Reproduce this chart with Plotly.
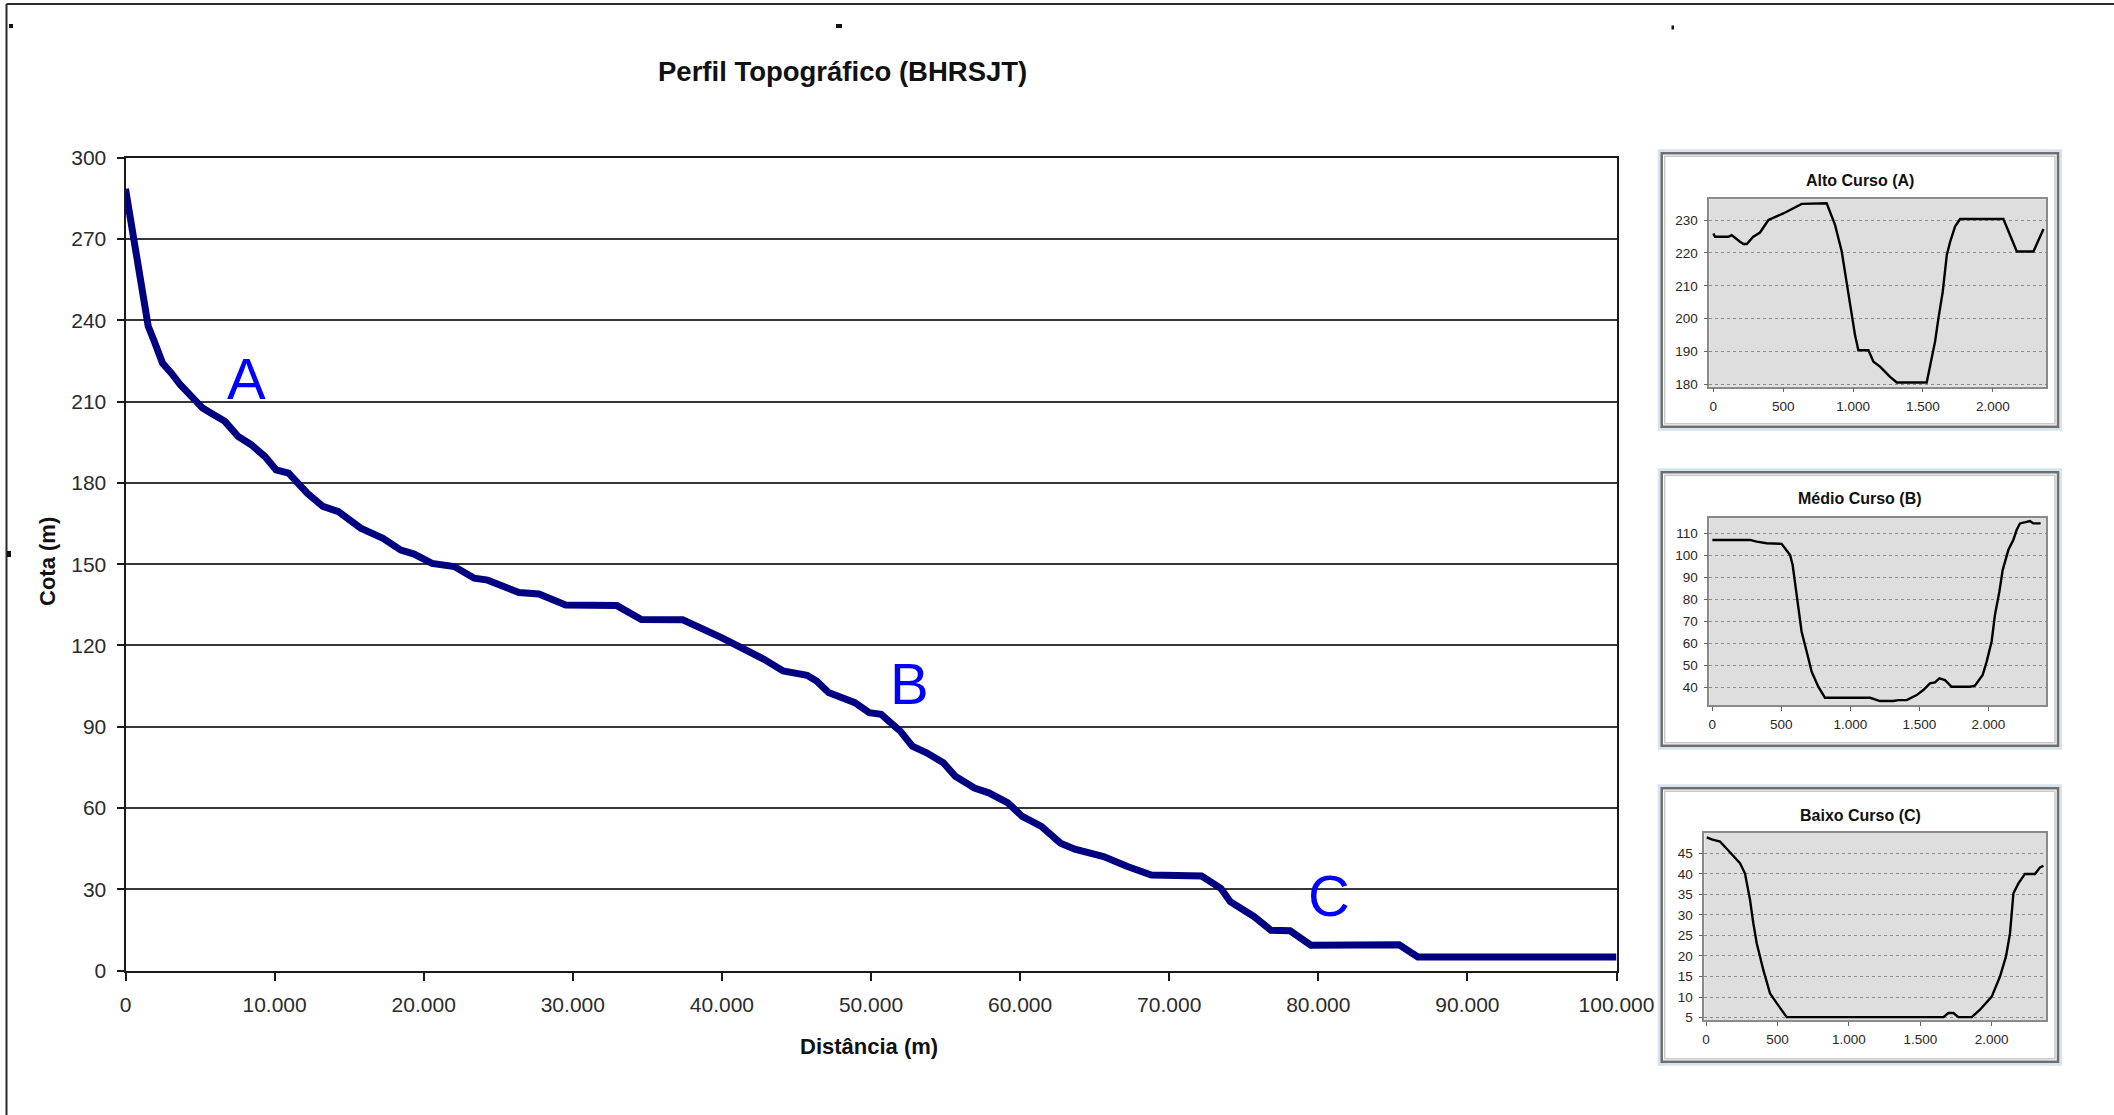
import plotly.graph_objects as go

W, H = 2114, 1115

# ---------------- data ----------------
main_dist = [0, 540, 1135, 1524, 1882, 2480, 3077, 3675, 4422, 5169, 5916, 6663, 7560, 8455,
             9352, 10099, 10935, 12190, 13236, 14282, 15776, 17270, 18465, 19361, 20556, 22050,
             23394, 24291, 26383, 27727, 29520, 32955, 34600, 37370, 39936, 41540, 42823, 44106,
             45710, 46351, 47153, 48917, 49880, 50682, 51965, 52767, 53729, 54852, 55654, 56937,
             57899, 59182, 60144, 61427, 62710, 63673, 65597, 67201, 68805, 72173, 73456, 74098,
             75702, 76825, 78108, 79500, 85422, 86674, 100000]
main_elev = [288.5, 269.8, 248.9, 237.8, 232.9, 224.2, 220.5, 216.2, 211.9, 207.6, 205.1, 202.7,
             197.1, 194.0, 189.7, 184.8, 183.6, 176.2, 171.3, 169.4, 163.3, 159.5, 155.2, 153.7,
             150.3, 149.1, 144.8, 144.1, 139.5, 139.0, 134.9, 134.7, 129.6, 129.5, 123.0, 118.6,
             114.9, 110.6, 109.0, 106.9, 102.6, 98.9, 95.2, 94.6, 88.4, 82.8, 80.4, 76.7, 71.7,
             67.4, 65.6, 61.9, 56.9, 53.2, 47.0, 44.8, 42.1, 38.4, 35.3, 34.9, 30.4, 25.4, 19.9,
             14.9, 14.7, 9.4, 9.5, 5.0, 5.0]

main_yticks = [0, 30, 60, 90, 120, 150, 180, 210, 240, 270, 300]
main_xticks = [0, 10000, 20000, 30000, 40000, 50000, 60000, 70000, 80000, 90000, 100000]

# point labels on the main profile
label_text = ["A", "B", "C"]
label_dist = [8112, 52560, 80737]
label_elev = [218.4, 106.0, 27.9]

# Alto Curso (A)
a_dist = [0, 12, 107, 131, 191, 215, 239, 286, 334, 370, 394, 501, 573, 632, 811, 871, 919,
          955, 990, 1014, 1038, 1110, 1146, 1193, 1265, 1313, 1527, 1563, 1587, 1611, 1642,
          1671, 1695, 1730, 1766, 2076, 2172, 2291, 2320, 2363]
a_elev = [225.9, 224.9, 224.9, 225.4, 223.4, 222.7, 222.7, 224.9, 226.2, 228.5, 230.0, 232.0,
          233.6, 234.9, 235.1, 228.5, 220.4, 210.2, 201.1, 195.0, 190.4, 190.4, 186.9, 185.4,
          182.3, 180.6, 180.6, 187.9, 193.0, 200.1, 208.2, 219.4, 223.4, 228.0, 230.3, 230.3,
          220.4, 220.4, 223.4, 227.3]
a_yticks = [180, 190, 200, 210, 220, 230]

# Médio Curso (B)
b_dist = [0, 273, 321, 394, 502, 539, 563, 582, 606, 623, 647, 684, 720, 768, 816, 901, 1143,
          1215, 1312, 1348, 1408, 1481, 1529, 1577, 1614, 1645, 1686, 1734, 1867, 1903, 1959,
          1988, 2024, 2048, 2080, 2104, 2145, 2181, 2205, 2229, 2302, 2326, 2379]
b_elev = [107.0, 107.0, 106.2, 105.5, 105.2, 102.4, 100.2, 95.6, 85.0, 75.9, 65.3, 56.2, 47.1,
          40.3, 35.3, 35.3, 35.3, 33.8, 33.8, 34.2, 34.2, 36.5, 38.8, 41.8, 42.3, 44.1, 43.3,
          40.3, 40.3, 40.8, 45.6, 51.7, 60.8, 72.9, 83.5, 93.3, 102.4, 107.0, 111.5, 114.5,
          115.6, 114.5, 114.5]
b_yticks = [40, 50, 60, 70, 80, 90, 100, 110]

# Baixo Curso (C)
c_dist = [5, 40, 98, 156, 191, 238, 273, 308, 331, 355, 401, 448, 495, 565, 1662, 1697, 1732,
          1767, 1860, 1918, 2000, 2058, 2100, 2128, 2152, 2187, 2233, 2303, 2338, 2362]
c_elev = [48.9, 48.4, 47.9, 45.7, 44.6, 42.6, 40.1, 33.7, 28.0, 23.1, 16.6, 10.9, 8.5, 5.1,
          5.1, 6.1, 6.1, 5.1, 5.1, 6.9, 10.1, 15.0, 19.9, 25.5, 35.3, 37.7, 40.0, 40.0, 41.6,
          42.0]
c_yticks = [5, 10, 15, 20, 25, 30, 35, 40, 45]

inset_xticks = [0, 500, 1000, 1500, 2000]
inset_titles = ["Alto Curso (A)", "Médio Curso (B)", "Baixo Curso (C)"]

# ---------------- helpers ----------------
def fx(px):
    return px / W


def fy(py):
    return 1 - py / H


FONT = "Liberation Sans, Arial, Helvetica, sans-serif"

fig = go.Figure()

fig.add_trace(go.Scatter(x=main_dist, y=main_elev, mode="lines",
                         line=dict(color="#000080", width=7), xaxis="x", yaxis="y",
                         showlegend=False, hoverinfo="skip"))
fig.add_trace(go.Scatter(x=a_dist, y=a_elev, mode="lines", line=dict(color="#000000", width=2.4),
                         xaxis="x2", yaxis="y2", showlegend=False))
fig.add_trace(go.Scatter(x=b_dist, y=b_elev, mode="lines", line=dict(color="#000000", width=2.4),
                         xaxis="x3", yaxis="y3", showlegend=False))
fig.add_trace(go.Scatter(x=c_dist, y=c_elev, mode="lines", line=dict(color="#000000", width=2.4),
                         xaxis="x4", yaxis="y4", showlegend=False))

tick_font = dict(family=FONT, size=21, color="#2b2b2b")
inset_font = dict(family=FONT, size=13.5, color="#2a2626")

layout = dict(
    autosize=True, margin=dict(l=0, r=0, t=0, b=0, autoexpand=False),
    paper_bgcolor="white", plot_bgcolor="white",
    separators=",.",
    showlegend=False,
    xaxis=dict(domain=[fx(125.5), fx(1616.5)], range=[0, 100000], tickvals=main_xticks,
               tickformat=",d", showgrid=False, zeroline=False, showline=True, mirror=True,
               linecolor="#1a1a1a", linewidth=2, ticks="outside", ticklen=8, tickwidth=2,
               tickcolor="#1a1a1a", tickfont=tick_font, ticklabelstandoff=6, anchor="y"),
    yaxis=dict(domain=[fy(970.6), fy(157.7)], range=[0, 300], tickvals=main_yticks,
               showgrid=True, gridcolor="#363636", gridwidth=2, zeroline=False, showline=True,
               mirror=True, linecolor="#1a1a1a", linewidth=2, ticks="outside", ticklen=7,
               tickwidth=2, tickcolor="#1a1a1a", tickfont=tick_font, ticklabelstandoff=6,
               anchor="x"),
)

inset_specs = [
    ("2", [fx(1709.3), fx(2046)], [fy(386.7), fy(199.3)], [-29, 2381], [179.3, 236.3], a_yticks),
    ("3", [fx(1709.3), fx(2046)], [fy(705.0), fy(517.7)], [-22, 2418], [32.0, 117.1], b_yticks),
    ("4", [fx(1704.3), fx(2046)], [fy(1020.0), fy(832.7)], [-12, 2380], [4.4, 50.05], c_yticks),
]
for n, xd, yd, xr, yr, yt in inset_specs:
    layout["xaxis" + n] = dict(domain=xd, range=xr, tickvals=inset_xticks, tickformat=",d",
                               showgrid=False, zeroline=False, showline=True, mirror=True,
                               linecolor="#8a8a8a", linewidth=1.5, ticks="outside", ticklen=4,
                               tickcolor="#666666", tickfont=inset_font, ticklabelstandoff=2,
                               anchor="y" + n)
    layout["yaxis" + n] = dict(domain=yd, range=yr, tickvals=yt, showgrid=True,
                               gridcolor="#8c8c8c", griddash="dot", gridwidth=1, zeroline=False,
                               showline=True, mirror=True, linecolor="#8a8a8a", linewidth=1.5,
                               ticks="outside", ticklen=4, tickcolor="#666666",
                               tickfont=inset_font, ticklabelstandoff=3, anchor="x" + n)
fig.update_layout(**layout)

# plot backgrounds of the insets (gray)
shapes = []
for n, xd, yd, xr, yr, yt in inset_specs:
    shapes.append(dict(type="rect", xref="paper", yref="paper", x0=xd[0], x1=xd[1], y0=yd[0],
                       y1=yd[1], fillcolor="#dedede", line=dict(width=0), layer="below"))

# inset frames
frames_px = [(1661.7, 153.3, 2058, 426.7), (1661.7, 472.3, 2058, 745.7),
             (1661.7, 788.3, 2058, 1061.7)]
for (x0, y0, x1, y1) in frames_px:
    shapes.append(dict(type="rect", xref="paper", yref="paper", x0=fx(x0 - 2.5), x1=fx(x1 + 2.5),
                       y0=fy(y1 + 2.5), y1=fy(y0 - 2.5), line=dict(color="#d6e3f0", width=3)))
    shapes.append(dict(type="rect", xref="paper", yref="paper", x0=fx(x0), x1=fx(x1),
                       y0=fy(y1), y1=fy(y0), line=dict(color="#6e6e6e", width=2.5)))
    shapes.append(dict(type="rect", xref="paper", yref="paper", x0=fx(x0 + 3), x1=fx(x1 - 3),
                       y0=fy(y1 - 3), y1=fy(y0 + 3), line=dict(color="#c8c8c8", width=1.5)))

# page frame lines
shapes.append(dict(type="line", xref="paper", yref="paper", x0=fx(6.5), x1=fx(6.5), y0=0,
                   y1=fy(4), line=dict(color="#2a2a2a", width=2)))
shapes.append(dict(type="line", xref="paper", yref="paper", x0=fx(6.5), x1=1, y0=fy(4),
                   y1=fy(4), line=dict(color="#2a2a2a", width=2)))
# small marks
for (mx, my, mw, mh) in [(9, 24, 4, 4), (836, 24, 6, 4), (1671.5, 25.5, 2.5, 4), (7, 551, 4, 6)]:
    shapes.append(dict(type="rect", xref="paper", yref="paper", x0=fx(mx), x1=fx(mx + mw),
                       y0=fy(my + mh), y1=fy(my), fillcolor="#111111", line=dict(width=0)))

fig.update_layout(shapes=shapes)

ann = []
ann.append(dict(text="<b>Perfil Topográfico (BHRSJT)</b>", xref="paper", yref="paper",
                x=fx(842), y=fy(71.5), xanchor="center", yanchor="middle", showarrow=False,
                font=dict(family=FONT, size=27.5, color="#111111")))
ann.append(dict(text="<b>Distância (m)</b>", xref="paper", yref="paper", x=fx(869), y=fy(1046),
                xanchor="center", yanchor="middle", showarrow=False,
                font=dict(family=FONT, size=22, color="#111111")))
ann.append(dict(text="<b>Cota (m)</b>", xref="paper", yref="paper", x=fx(47), y=fy(562),
                xanchor="center", yanchor="middle", showarrow=False, textangle=-90,
                font=dict(family=FONT, size=22, color="#111111")))
for t, xv, yv in zip(label_text, label_dist, label_elev):
    ann.append(dict(text=t, xref="x", yref="y", x=xv, y=yv, xanchor="center", yanchor="middle",
                    showarrow=False, font=dict(family=FONT, size=58, color="#0000ff")))
title_y = [180, 498.3, 815]
for t, ty in zip(inset_titles, title_y):
    ann.append(dict(text="<b>" + t + "</b>", xref="paper", yref="paper", x=fx(1860), y=fy(ty),
                    xanchor="center", yanchor="middle", showarrow=False,
                    font=dict(family=FONT, size=16, color="#111111")))
fig.update_layout(annotations=ann)

fig.write_html(
    "out.html",
    default_width="100vw",
    default_height="100vh",
    config={"responsive": True, "displayModeBar": False},
    post_script=("document.documentElement.style.margin='0';"
                 "document.body.style.margin='0';document.body.style.padding='0';"
                 "document.documentElement.style.overflow='hidden';"
                 "document.body.style.overflow='hidden';"
                 "Plotly.Plots.resize(document.getElementById('{plot_id}'));"),
)
